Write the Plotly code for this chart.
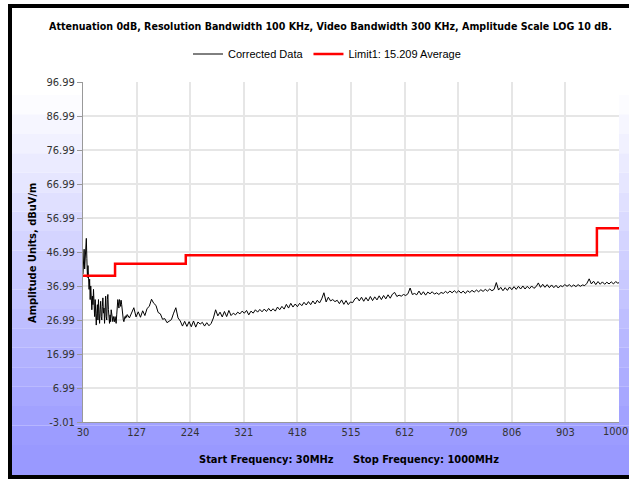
import plotly.graph_objects as go

# ---------------- data ----------------
freq_low = [30, 31, 32, 33, 34, 35, 36, 37, 38, 39, 40, 41, 42, 43, 44, 45, 46, 47, 48, 49,
            50, 51, 52, 53, 54, 55, 56, 57, 58, 59, 60, 61, 62, 63, 64, 65, 66, 67, 68, 69,
            70, 71, 72, 73, 74, 75, 76, 77, 78, 79, 80, 81, 82, 83, 84, 85, 86, 87, 88, 89,
            90, 91, 92, 93, 94, 95, 96, 97, 98, 99, 100, 101, 102, 103, 104, 105, 106, 107, 108, 109]
level_low = [40.5, 44.0, 47.8, 42.0, 46.5, 50.8, 51.0, 45.0, 39.5, 43.0, 40.0, 36.0, 39.0, 33.0, 37.0, 34.5, 30.0, 34.0, 31.5, 36.0,
             31.0, 28.0, 33.0, 26.0, 25.5, 29.0, 31.5, 27.0, 33.0, 29.0, 26.0, 30.0, 32.5, 28.0, 27.0, 31.0, 33.5, 29.0, 30.5, 26.0,
             32.0, 34.0, 28.0, 27.0, 33.0, 34.5, 30.0, 27.0, 26.0, 28.5, 26.5, 30.0, 28.0, 27.0, 26.5, 28.0, 27.0, 26.5, 28.0, 27.0,
             26.0, 28.5, 31.0, 33.0, 32.0, 30.5, 33.0, 32.5, 31.0, 32.8, 31.5, 29.5, 28.0, 27.0, 26.5, 27.5, 28.0, 27.5, 28.3, 27.8]

freq_high = [110, 114, 118, 122, 126, 130, 134, 138, 142, 146, 150, 154, 158, 162, 166, 170, 174, 178, 182, 186,
             190, 194, 198, 202, 206, 210, 214, 218, 222, 226, 230, 234, 238, 242, 246, 250, 254, 258, 262, 266,
             270, 274, 278, 282, 286, 290, 294, 298, 302, 306, 310, 314, 318, 322, 326, 330, 334, 338, 342, 346,
             350, 354, 358, 362, 366, 370, 374, 378, 382, 386, 390, 394, 398, 402, 406, 410, 414, 418, 422, 426,
             430, 434, 438, 442, 446, 450, 454, 458, 462, 466, 470, 474, 478, 482, 486, 490, 494, 498, 502, 506,
             510, 514, 518, 522, 526, 530, 534, 538, 542, 546, 550, 554, 558, 562, 566, 570, 574, 578, 582, 586,
             590, 594, 598, 602, 606, 610, 614, 618, 622, 626, 630, 634, 638, 642, 646, 650, 654, 658, 662, 666,
             670, 674, 678, 682, 686, 690, 694, 698, 702, 706, 710, 714, 718, 722, 726, 730, 734, 738, 742, 746,
             750, 754, 758, 762, 766, 770, 774, 778, 782, 786, 790, 794, 798, 802, 806, 810, 814, 818, 822, 826,
             830, 834, 838, 842, 846, 850, 854, 858, 862, 866, 870, 874, 878, 882, 886, 890, 894, 898, 902, 906,
             910, 914, 918, 922, 926, 930, 934, 938, 942, 946, 950, 954, 958, 962, 966, 970, 974, 978, 982, 986,
             990, 994, 998, 1000]
level_high = [28.6, 27.6, 28.9, 30.6, 27.9, 29.4, 27.8, 29.7, 28.3, 30.4, 31.0, 33.1, 31.9, 31.3, 29.2, 28.8, 27.2, 27.4, 26.2, 26.7,
              27.1, 29.0, 30.6, 27.6, 26.7, 25.2, 26.6, 25.1, 26.5, 25.0, 26.7, 24.9, 26.4, 25.8, 26.3, 25.2, 26.2, 25.3, 26.0, 27.6,
              30.0, 28.2, 29.3, 27.9, 29.5, 28.0, 29.8, 28.3, 29.0, 28.5, 29.3, 28.8, 29.6, 29.0, 29.8, 28.5, 29.6, 29.0, 30.0, 29.3,
              30.1, 29.4, 30.2, 29.5, 30.4, 29.6, 30.3, 29.6, 30.8, 30.0, 31.0, 30.2, 31.6, 30.5, 31.9, 30.8, 31.7, 30.9, 31.9, 31.2,
              32.2, 31.4, 32.4, 31.5, 32.6, 31.7, 32.8, 32.0, 33.2, 35.0, 32.3, 33.7, 32.6, 33.0, 32.4, 32.8, 31.8, 32.9, 31.6, 32.7,
              31.5, 32.3, 32.1, 33.2, 33.6, 32.6, 33.7, 32.5, 33.6, 32.6, 33.9, 32.7, 33.8, 32.9, 34.1, 33.0, 34.2, 33.2, 34.4, 33.4,
              34.6, 35.1, 33.9, 34.3, 34.0, 34.5, 34.2, 34.7, 36.4, 34.5, 34.8, 34.4, 35.5, 34.4, 35.3, 34.3, 35.2, 34.7, 35.3, 34.6,
              35.0, 34.5, 35.1, 34.8, 35.4, 34.9, 35.5, 35.0, 35.6, 35.0, 35.6, 34.9, 35.5, 34.8, 35.6, 35.1, 35.7, 35.2, 35.8, 35.3,
              35.9, 35.4, 36.0, 35.5, 36.1, 35.6, 36.0, 38.0, 35.8, 36.6, 35.6, 36.5, 35.7, 36.7, 35.9, 36.8, 36.0, 36.9, 36.1, 37.0,
              36.1, 36.9, 36.2, 37.0, 36.3, 36.8, 37.9, 36.6, 37.5, 36.6, 37.4, 36.5, 37.3, 36.5, 37.2, 36.4, 37.1, 36.8, 37.4, 36.9,
              37.4, 36.8, 37.3, 36.8, 37.4, 36.9, 37.3, 37.1, 37.8, 39.1, 37.6, 38.4, 37.4, 38.3, 37.5, 38.2, 37.5, 38.1, 37.6, 38.2,
              37.6, 38.3, 37.8, 38.0]

limit_freq = [30, 88, 216, 960, 1000]
limit_level = [40.0, 43.5, 46.0, 54.0, 54.0]

x_ticks = [30, 127, 224, 321, 418, 515, 612, 709, 806, 903, 1000]
y_ticks = [-3.01, 6.99, 16.99, 26.99, 36.99, 46.99, 56.99, 66.99, 76.99, 86.99, 96.99]

title_text = "Attenuation 0dB, Resolution Bandwidth 100 KHz, Video Bandwidth 300 KHz, Amplitude Scale LOG 10 dB."
y_title = "Amplitude Units, dBuV/m"
x_title_left = "Start Frequency: 30MHz"
x_title_right = "Stop Frequency: 1000MHz"

# ---------------- layout geometry ----------------
W, H = 629, 479
ML, MR, MT, MB = 83, 10, 82, 57
PW, PH = W - ML - MR, H - MT - MB


def xp(px):
    return (px - ML) / PW


def yp(py):
    return (H - MB - py) / PH


BOLD = "DejaVu Sans Condensed, DejaVu Sans, sans-serif"
TICKF = "DejaVu Sans Condensed, DejaVu Sans, sans-serif"
LEGF = "Liberation Sans, Arial, sans-serif"

# last x tick label sits at the very right edge: draw it as an annotation nudged inward
x_tick_text = [str(v) for v in x_ticks[:-1]] + [""]

shapes = []
# gradient background bands
top_py, end_py, bottom_py = 95, 445, 475
n_bands = 18
c0 = (255, 255, 255)
c1 = (153, 153, 255)
step = (end_py - top_py) / n_bands
for i in range(n_bands + 1):
    y0 = top_py + i * step
    y1 = min(y0 + step, bottom_py) if i < n_bands else bottom_py
    t = (i + 0.5) / n_bands if i < n_bands else 1.0
    t = min(t, 1.0)
    col = tuple(round(c0[k] + (c1[k] - c0[k]) * t) for k in range(3))
    shapes.append(dict(type="rect", xref="paper", yref="paper", layer="below",
                       x0=xp(12), x1=xp(629), y0=yp(y1), y1=yp(y0),
                       line=dict(width=0), fillcolor="rgb(%d,%d,%d)" % col))
# white plot area
shapes.append(dict(type="rect", xref="paper", yref="paper", layer="below",
                   x0=0, x1=1, y0=0, y1=1, line=dict(width=0), fillcolor="white"))
# black frame
for (a, b, c, d) in [(8, 12, 4, 479), (8, 629, 4, 8), (8, 629, 475, 479)]:
    shapes.append(dict(type="rect", xref="paper", yref="paper", layer="below",
                       x0=xp(a), x1=xp(b), y0=yp(d), y1=yp(c),
                       line=dict(width=0), fillcolor="black"))

fig = go.Figure()
fig.add_trace(go.Scatter(x=freq_low + freq_high, y=level_low + level_high, mode="lines",
                         name="Corrected Data", line=dict(color="black", width=1)))
fig.add_trace(go.Scatter(x=limit_freq, y=limit_level, mode="lines", line_shape="hv",
                         name="Limit1: 15.209 Average", line=dict(color="#ff0000", width=2.5)))

annotations = [
    dict(text="<b>%s</b>" % title_text, xref="paper", yref="paper", x=xp(330), y=yp(26),
         xanchor="center", yanchor="middle", showarrow=False,
         font=dict(family=BOLD, size=10.6, color="black")),
    dict(text="<b>%s</b>" % y_title, xref="paper", yref="paper", x=xp(32), y=yp(253),
         xanchor="center", yanchor="middle", showarrow=False, textangle=-90,
         font=dict(family=BOLD, size=11, color="black")),
    dict(text="<b>%s</b>" % x_title_left, xref="paper", yref="paper", x=xp(336), y=yp(459),
         xanchor="right", yanchor="middle", showarrow=False,
         font=dict(family=BOLD, size=11, color="black")),
    dict(text="<b>%s</b>" % x_title_right, xref="paper", yref="paper", x=xp(351), y=yp(459),
         xanchor="left", yanchor="middle", showarrow=False,
         font=dict(family=BOLD, size=11, color="black")),
    dict(text=str(x_ticks[-1]), xref="x", yref="paper", x=x_ticks[-1], y=yp(432),
         xanchor="center", yanchor="middle", xshift=-4, showarrow=False,
         font=dict(family=TICKF, size=11, color="#333333")),
]

fig.update_layout(
    width=W, height=H,
    margin=dict(l=ML, r=MR, t=MT, b=MB, pad=0, autoexpand=False),
    paper_bgcolor="white", plot_bgcolor="rgba(0,0,0,0)",
    shapes=shapes, annotations=annotations,
    showlegend=True,
    legend=dict(orientation="h", x=xp(327), y=yp(54), xanchor="center", yanchor="middle",
                font=dict(family=LEGF, size=11, color="black"), bgcolor="rgba(0,0,0,0)",
                itemwidth=30, traceorder="normal"),
    xaxis=dict(range=[30, 1000], tickmode="array", tickvals=x_ticks,
               ticktext=x_tick_text, showgrid=True, gridcolor="#e6e6e6",
               gridwidth=2, zeroline=False, showline=True, linecolor="#999999", linewidth=1,
               ticks="", ticklabeloverflow="allow", automargin=False,
               tickfont=dict(family=TICKF, size=11, color="#333333")),
    yaxis=dict(range=[-3.01, 96.99], tickmode="array", tickvals=y_ticks,
               ticktext=["%.2f" % v for v in y_ticks], showgrid=True, gridcolor="#e6e6e6",
               gridwidth=2, zeroline=False, showline=True, linecolor="#999999", linewidth=1,
               ticks="outside", ticklen=5, tickcolor="#999999", automargin=False,
               tickfont=dict(family=TICKF, size=11, color="#333333")),
)

fig.write_html("out.html")
